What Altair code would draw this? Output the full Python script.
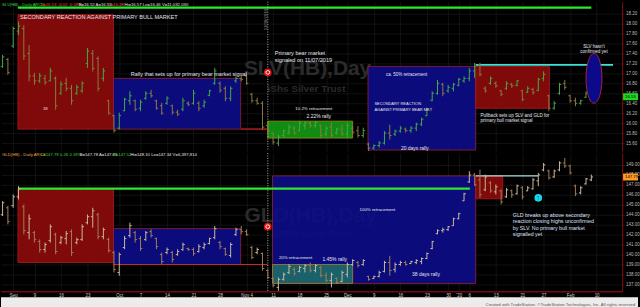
import json
import altair as alt
import pandas as pd

# ---------------- data (trading-day index: 0 = 3 Sep 2019) ----------------
days = list(range(-2, 110))

slv_high = [17.37,17.31,17.94,18.04,17.97,17.57,17.01,17.01,16.97,17.11,
            16.94,16.84,16.91,16.77,16.77,16.84,17.51,17.47,17.34,17.11,
            16.47,16.17,16.21,16.51,16.64,16.47,16.47,16.64,16.67,16.47,
            16.41,16.54,16.37,16.27,16.51,16.44,16.67,16.44,16.47,16.67,
            17.11,16.84,16.74,16.74,16.94,16.97,17.01,16.61,16.51,16.44,
            16.04,15.81,15.77,15.87,15.97,15.94,16.04,16.04,16.04,16.04,
            15.97,15.94,16.01,15.91,15.97,16.01,15.94,15.94,15.91,15.61,
            15.57,15.64,15.84,15.97,15.87,15.94,15.91,15.94,16.01,16.11,
            16.31,16.64,16.87,16.81,16.77,16.81,16.91,16.94,17.11,17.21,
            17.21,16.74,16.94,16.84,16.67,16.84,16.81,16.87,16.67,16.74,
            16.71,16.91,17.04,16.57,16.44,16.81,16.87,16.57,16.51,16.47,
            16.64,16.64]
slv_low = [17.11,16.97,17.51,17.77,17.27,16.84,16.77,16.81,16.77,16.84,
           16.27,16.57,16.64,16.37,16.57,16.61,17.11,17.04,16.64,16.84,
           16.17,15.81,15.87,16.24,16.37,16.24,16.24,16.47,16.51,16.27,
           16.17,16.37,16.17,16.14,16.24,16.34,16.37,16.24,16.31,16.54,
           16.77,16.61,16.44,16.44,16.81,16.84,16.77,16.41,16.37,15.87,
           15.77,15.57,15.54,15.71,15.77,15.77,15.84,15.87,15.91,15.91,
           15.71,15.74,15.71,15.77,15.74,15.71,15.77,15.71,15.71,15.44,
           15.47,15.51,15.57,15.67,15.74,15.81,15.81,15.81,15.84,15.94,
           16.14,16.44,16.57,16.54,16.61,16.64,16.74,16.81,16.84,16.91,
           16.94,16.61,16.77,16.71,16.54,16.67,16.71,16.74,16.44,16.61,
           16.57,16.64,16.84,16.24,16.27,16.57,16.67,16.41,16.34,16.37,
           16.51,16.44]
slv_open = [17.14,17.28,17.55,17.85,17.90,17.40,16.95,16.85,16.90,16.85,
            16.90,16.60,16.80,16.70,16.60,16.65,17.20,17.40,17.30,16.90,
            16.45,16.15,15.90,16.25,16.45,16.45,16.30,16.50,16.60,16.45,
            16.35,16.40,16.35,16.22,16.28,16.40,16.40,16.40,16.35,16.56,
            16.80,16.80,16.70,16.50,16.85,16.90,16.95,16.58,16.45,16.40,
            15.95,15.80,15.60,15.75,15.80,15.90,15.85,15.95,16.00,15.95,
            15.95,15.78,15.92,15.80,15.88,15.78,15.90,15.85,15.75,15.58,
            15.50,15.55,15.60,15.80,15.78,15.84,15.88,15.85,15.90,15.98,
            16.15,16.46,16.60,16.78,16.65,16.70,16.76,16.85,16.90,17.05,
            17.18,16.70,16.80,16.80,16.65,16.70,16.78,16.76,16.65,16.62,
            16.68,16.66,16.90,16.55,16.30,16.60,16.80,16.55,16.45,16.40,
            16.52,16.47]
slv_close = [17.33,17.02,17.90,17.95,17.35,16.95,16.85,16.95,16.82,17.05,
             16.35,16.78,16.70,16.45,16.72,16.80,17.45,17.10,16.70,17.05,
             16.20,15.85,16.15,16.48,16.55,16.28,16.42,16.60,16.55,16.30,
             16.20,16.50,16.22,16.18,16.45,16.38,16.60,16.30,16.42,16.65,
             17.05,16.66,16.50,16.70,16.90,16.88,16.80,16.45,16.40,15.92,
             15.85,15.62,15.72,15.85,15.92,15.80,16.00,16.00,15.95,16.02,
             15.75,15.90,15.75,15.88,15.78,15.95,15.82,15.75,15.85,15.50,
             15.55,15.60,15.80,15.75,15.84,15.90,15.85,15.90,15.98,16.08,
             16.28,16.60,16.80,16.60,16.72,16.78,16.88,16.90,17.05,17.15,
             16.98,16.65,16.90,16.75,16.58,16.80,16.75,16.85,16.48,16.70,
             16.62,16.88,16.98,16.30,16.40,16.78,16.72,16.45,16.40,16.45,
             16.60,16.53]

gld_high = [145.37,144.87,146.03,146.87,145.03,144.03,142.37,141.53,141.20,143.03,
            142.20,141.87,142.37,142.53,141.70,143.03,144.03,144.70,144.20,142.70,
            141.70,140.37,140.20,141.87,143.20,142.37,141.87,142.37,142.53,141.70,
            140.20,140.70,140.37,140.53,141.20,140.70,140.70,141.03,141.20,141.70,
            142.87,141.37,140.70,141.20,142.70,142.87,142.53,140.87,140.70,140.20,
            138.53,137.70,137.70,138.20,139.03,138.70,138.87,139.03,139.20,139.03,
            138.87,138.20,138.20,137.70,138.37,139.20,139.53,139.37,139.53,137.87,
            137.87,138.37,139.37,139.87,139.20,139.37,139.37,139.37,139.53,139.70,
            140.20,141.37,142.53,142.70,142.87,143.70,144.20,146.20,148.37,148.20,
            148.53,148.03,147.37,147.03,146.53,146.70,146.53,147.03,146.87,146.87,
            147.70,148.20,149.20,148.53,148.53,149.37,149.70,149.03,147.03,146.87,
            147.70,148.03]
gld_low = [143.87,143.03,144.70,145.53,142.03,141.53,141.20,140.20,140.20,141.20,
           140.03,141.03,141.03,139.87,141.03,141.37,143.03,142.70,141.53,141.53,
           140.20,138.20,137.87,140.53,141.70,141.20,140.37,141.37,141.70,140.53,
           139.03,140.03,139.20,139.87,140.37,140.37,139.87,140.20,140.53,141.03,
           141.53,140.53,139.87,139.70,141.87,142.03,141.87,139.53,140.03,138.37,
           137.53,136.70,136.37,137.37,138.03,137.87,138.20,138.20,138.20,138.20,
           137.70,137.20,136.70,137.03,137.20,137.70,138.87,138.70,138.87,137.37,
           137.53,137.70,138.20,137.87,138.20,138.87,138.87,139.03,139.03,139.03,
           139.53,140.53,142.03,142.20,142.37,142.87,143.53,145.37,147.20,146.87,
           145.70,146.37,146.20,146.03,145.03,145.70,145.70,146.03,145.53,146.37,
           146.53,146.87,148.37,147.53,147.70,148.37,148.70,148.03,145.87,146.03,
           147.03,147.37]
gld_open = [144.0,144.7,144.9,145.8,144.8,142.2,142.2,141.3,140.5,141.4,
            142.0,141.2,141.6,142.3,141.2,141.5,143.2,143.8,144.0,141.8,
            141.5,140.2,138.2,140.7,141.9,142.2,141.6,141.5,142.3,141.6,
            140.0,140.2,140.2,140.0,140.5,140.6,140.5,140.3,140.7,141.1,
            141.7,141.2,140.6,139.9,142.0,142.5,142.3,140.7,140.2,140.1,
            138.4,137.6,136.7,137.5,138.2,138.5,138.3,138.6,138.9,138.4,
            138.7,137.9,137.4,137.6,137.3,138.0,139.0,139.2,139.0,137.8,
            137.6,137.8,138.3,139.2,138.5,139.0,139.2,139.1,139.2,139.3,
            139.6,140.6,142.1,142.4,142.5,142.9,143.6,145.4,147.3,148.0,
            147.5,146.5,147.2,146.3,146.4,145.8,146.4,146.1,146.7,146.4,
            146.6,147.4,148.5,148.4,147.8,148.5,149.2,148.9,146.9,146.2,
            147.1,147.5]
gld_close = [145.2,143.3,145.8,146.6,142.4,143.6,141.5,140.5,141.0,142.8,
             140.3,141.7,142.1,140.2,141.5,142.8,143.8,144.4,141.8,142.5,
             140.4,138.5,140.0,141.6,142.9,141.5,140.6,142.2,141.9,140.8,
             139.3,140.5,139.5,140.3,141.0,140.5,140.1,140.8,141.0,141.6,
             142.6,140.8,140.0,141.0,142.5,142.3,142.0,139.7,140.5,138.6,
             137.7,136.9,137.5,138.0,138.8,138.1,138.7,138.9,138.4,138.9,
             137.9,137.4,138.0,137.2,138.2,139.0,139.4,138.9,139.4,137.5,
             137.8,138.2,139.2,138.4,139.0,139.2,139.0,139.3,139.4,139.6,
             140.1,141.3,142.4,142.5,142.8,143.6,144.1,146.1,148.0,147.0,
             146.0,147.8,146.4,146.8,145.3,146.5,146.0,146.9,145.8,146.7,
             147.5,148.0,149.0,147.7,148.4,149.2,148.9,148.2,146.1,146.7,
             147.6,147.79]

for arr in (slv_high, slv_low, slv_open, slv_close, gld_high, gld_low, gld_open, gld_close):
    assert len(arr) == len(days), len(arr)

tick_days = [0, 4, 9, 14, 20, 24, 29, 34, 39, 44, 49, 54, 59, 63, 68, 73, 78, 82, 84, 86, 91, 96, 100, 105, 110]
tick_text = ["Sep", "9", "16", "23", "Oct", "7", "14", "21", "28", "Nov 4", "11", "18", "25",
             "Dec", "9", "16", "23", "30", "'20", "6", "13", "21", "27", "Feb", "10"]
slv_ticks = [15.6, 15.8, 16.0, 16.2, 16.4, 16.6, 16.8, 17.0, 17.2, 17.4, 17.6, 17.8, 18.0, 18.2]
gld_ticks = [137, 138, 139, 140, 141, 142, 143, 144, 145, 146, 147, 148, 149]

# annotation zones (trading-day index, price)
slv_zone_from = [0.9, 18.9, 48.0, 66.9, 87.2]
slv_zone_to = [18.9, 42.9, 64.0, 87.2, 101.1]
slv_zone_top = [18.18, 16.90, 16.04, 17.14, 17.14]
slv_zone_bot = [15.88, 15.88, 15.70, 15.46, 16.30]
slv_zone_kind = ["reaction", "rally", "bounce", "rally", "reaction"]

gld_zone_from = [0.9, 18.9, 48.9, 48.9, 87.2]
gld_zone_to = [18.9, 42.9, 87.2, 64.0, 92.3]
gld_zone_top = [146.6, 142.6, 147.9, 139.0, 147.9]
gld_zone_bot = [139.2, 139.0, 137.1, 137.1, 145.6]
gld_zone_kind = ["reaction", "rally", "rally", "teal", "reaction"]

slv_level_from = [0.9, 42.9, 87.2]
slv_level_to = [109.0, 48.0, 113.1]
slv_level_at = [18.32, 15.88, 17.17]
slv_level_kind = ["bull", "support", "high"]

gld_level_from = [0.9, 18.9, 87.2]
gld_level_to = [86.1, 48.0, 99.0]
gld_level_at = [146.63, 139.0, 147.9]
gld_level_kind = ["bull", "support2", "high2"]

signal_day = 48
slv_signal_price = 17.02
gld_signal_price = 142.8
gld_break_day, gld_break_price = 99.0, 145.7
slv_oval_day, slv_oval_price = 109.5, 16.90
slv_last, gld_last = 16.53, 147.79

# texts
slv_title = "SECONDARY REACTION AGAINST PRIMARY BULL MARKET"
footer_text = "Created with TradeStation. \u00a9TradeStation Technologies, Inc. All rights reserved"

# ---------------- styles ----------------
ZK = ["reaction", "rally", "bounce", "teal"]
ZF = ["#8e0b0b", "#0c0c88", "#149a14", "#1d6a6a"]
ZE = ["#a51a1a", "#8a1f3a", "#8a8a10", "#9a7a30"]
LK = ["bull", "support", "high", "high2", "support2"]
LC = ["#2ee82e", "#8a1a1a", "#3ee0d8", "#a8e2e2", "#c42a2a"]
LW = [2.2, 1.2, 1.5, 1.2, 1.2]
FONT = "Liberation Sans"
NOTE = "#e4e4ee"
WATER = "#2b2b2b"

XS = alt.Scale(domain=[-2.3, 114.8], nice=False, zero=False)
GRID = "#1c1c1c"

label_expr = ("[" + ",".join(json.dumps(t) for t in tick_text) + "][indexof("
              + json.dumps(tick_days) + ", datum.value)]")

x_top = alt.Axis(values=tick_days, labels=False, ticks=False, domain=False, grid=True,
                 gridColor=GRID, gridWidth=0.6, title=None)
x_bot = alt.Axis(values=tick_days, labelExpr=label_expr, labelFontSize=4.5, labelColor="#cfcfcf",
                 labelFont=FONT, labelPadding=1.5, ticks=False, domainColor="#6e0d0d", domainWidth=1.5,
                 grid=True, gridColor=GRID, gridWidth=0.6, title=None, labelOverlap=False,
                 labelFlush=False, labelBound=False)


def yaxis(ticks):
    return alt.Axis(orient="right", values=ticks, format=".2f", title=None, labelFontSize=4.5,
                    labelColor="#bdbdbd", labelFont=FONT, labelPadding=1.5, tickSize=2,
                    tickColor="#6e0c0c", domainColor="#6e0c0c", domainWidth=1.2, grid=True,
                    gridColor=GRID, gridWidth=0.6, labelOverlap=False)


def build(ohlc, ydom, yticks, xax, zones, levels, up, dn, notes_fn, height):
    YS = alt.Scale(domain=ydom, nice=False, zero=False)
    yax = yaxis(yticks)

    def X(f):
        return alt.X(f, type="quantitative", scale=XS, axis=xax)

    def Y(f):
        return alt.Y(f, type="quantitative", scale=YS, axis=yax)

    df = pd.DataFrame({"k": days, "o": ohlc[0], "h": ohlc[1], "l": ohlc[2], "c": ohlc[3]})
    base = alt.Chart(df).transform_calculate(ko="datum.k - 0.34", kc="datum.k + 0.34")
    col = alt.condition("datum.c >= datum.o", alt.value(up), alt.value(dn))
    hl = base.mark_rule(strokeWidth=1).encode(x=X("k"), y=Y("l"), y2=alt.Y2("h"), color=col)
    op = base.mark_rule(strokeWidth=1).encode(x=X("ko"), x2=alt.X2("k"), y=Y("o"), color=col)
    cl = base.mark_rule(strokeWidth=1).encode(x=X("k"), x2=alt.X2("kc"), y=Y("c"), color=col)

    zdf = pd.DataFrame({"a": zones[0], "b": zones[1], "top": zones[2], "bot": zones[3], "kind": zones[4]})
    z = alt.Chart(zdf).mark_rect(fillOpacity=0.9, strokeWidth=0.9).encode(
        x=X("a"), x2=alt.X2("b"), y=Y("top"), y2=alt.Y2("bot"),
        fill=alt.Fill("kind:N", scale=alt.Scale(domain=ZK, range=ZF), legend=None),
        stroke=alt.Stroke("kind:N", scale=alt.Scale(domain=ZK, range=ZE), legend=None))

    ldf = pd.DataFrame({"a": levels[0], "b": levels[1], "at": levels[2], "kind": levels[3]})
    lv = alt.Chart(ldf).mark_rule().encode(
        x=X("a"), x2=alt.X2("b"), y=Y("at"),
        color=alt.Color("kind:N", scale=alt.Scale(domain=LK, range=LC), legend=None),
        strokeWidth=alt.StrokeWidth("kind:N", scale=alt.Scale(domain=LK, range=LW), legend=None))

    sig = alt.Chart(pd.DataFrame({"k": [signal_day]})).mark_rule(
        strokeDash=[1, 1.5], color="#d8d8d8", strokeWidth=0.8).encode(x=X("k"))

    def note(k, p, text, size, color=NOTE, align="left", bold=False, angle=0, lh=None):
        d = pd.DataFrame({"k": [k], "p": [p], "t": [text]})
        kw = dict(align=align, baseline="middle", fontSize=size, color=color, font=FONT,
                  fontWeight="bold" if bold else "normal", lineBreak="\n",
                  lineHeight=lh if lh else size * 1.25)
        if angle:
            kw["angle"] = angle
        return alt.Chart(d).mark_text(**kw).encode(x=X("k"), y=Y("p"), text="t:N")

    def point(k, p, size, fill, stroke=None, shape="circle", sw=1):
        d = pd.DataFrame({"k": [k], "p": [p]})
        kw = dict(shape=shape, size=size, filled=True, fill=fill, fillOpacity=1, opacity=1)
        if stroke:
            kw.update(stroke=stroke, strokeWidth=sw)
        return alt.Chart(d).mark_point(**kw).encode(x=X("k"), y=Y("p"))

    back, front = notes_fn(note, point)
    layers = back + [z, lv, sig, hl, op, cl] + front
    return alt.layer(*layers).properties(width=624, height=height), Y


def header(parts, y):
    out = []
    for x, txt, color in parts:
        out.append(alt.Chart(pd.DataFrame({"t": [txt]})).mark_text(
            align="left", baseline="middle", fontSize=4.3, color=color, font=FONT).encode(
            x=alt.value(x), y=alt.value(y), text="t:N"))
    return out


def price_tag(Y, value, d, color):
    df = pd.DataFrame({"c": [value], "t": [f"{value:.2f}"]})
    r = alt.Chart(df).transform_calculate(top=f"datum.c + {d}", bot=f"datum.c - {d}").mark_rect(
        color=color).encode(x=alt.value(625), x2=alt.value(640), y=Y("top"), y2=alt.Y2("bot"))
    t = alt.Chart(df).mark_text(align="left", baseline="middle", fontSize=4.3, color="#000",
                                font=FONT).encode(x=alt.value(627), y=Y("c"), text="t:N")
    return [r, t]


ELLIPSE = "M0,-1 A0.32,1 0 1,1 0,1 A0.32,1 0 1,1 0,-1 Z"


def slv_notes(note, point):
    back = [note(55.5, 17.08, "SLV(HB),Day", 21, color=WATER, align="center", bold=True),
            note(55.3, 16.68, "iShs Silver Trust", 10, color=WATER, align="center", bold=True)]
    front = [
        note(1.3, 18.14, slv_title, 5.6),
        note(5.6, 16.28, "18", 4.3),
        note(33.1, 16.98, "Rally that sets up for primary bear market signal", 5.5, align="center"),
        note(49.3, 17.40, "Primary bear market\nsignaled on 11/07/2019", 5.6, lh=6.6),
        note(47.6, 18.08, "11/08/2019", 4.3, color="#8c8c8c", align="center", angle=270),
        note(53.2, 16.28, "10.2%  retracement", 4.4),
        note(55.3, 16.14, "2.22% rally", 5.0),
        note(70.3, 16.96, "ca. 50% retracement", 4.5),
        note(68.1, 16.38, "SECONDARY REACTION\nAGAINST PRIMARY BEAR MKT", 4.0, lh=5.6),
        note(73.1, 15.50, "20 days rally", 5.0),
        note(88.1, 16.15, "Pullback sets up SLV and GLD for\nprimary bull market signal", 4.6, lh=5.6),
        note(109.5, 17.53, "SLV hasn't\nconfirmed yet", 4.6, align="center", lh=5.4),
        point(slv_oval_day, slv_oval_price, 2500, "#0a0a8a", "#b0203a", shape=ELLIPSE),
        point(signal_day, slv_signal_price, 60, "#e01010"),
        point(signal_day, slv_signal_price, 14, "#e01010", "#ffffff", sw=0.9),
    ]
    return back, front


def gld_notes(note, point):
    back = [note(56.1, 143.9, "GLD(HB),Day", 21, color=WATER, align="center", bold=True),
            note(56.3, 142.1, "SPDR Gold Trust", 10, color=WATER, align="center", bold=True)]
    front = [
        note(50.1, 139.65, "20% retracement", 4.4),
        note(58.3, 139.6, "1.45% rally", 5.0),
        note(65.3, 144.45, "100% retracement", 4.4),
        note(75.2, 138.0, "38 days rally", 5.0),
        note(94.2, 143.95, "GLD breaks up above secondary\nreaction closing  highs unconfirmed\n"
             "by SLV. No primary bull market\nsignalled yet", 5.3, color="#dfe4ff", lh=6.2),
        point(signal_day, gld_signal_price, 60, "#e01010"),
        point(signal_day, gld_signal_price, 14, "#e01010", "#ffffff", sw=0.9),
        point(gld_break_day, gld_break_price, 60, "#18d8e8"),
        note(gld_break_day, gld_break_price, "\u2191", 7, color="#003a48", align="center", bold=True),
    ]
    return back, front


top, YT = build((slv_open, slv_high, slv_low, slv_close), [15.44, 18.44], slv_ticks, x_top,
                (slv_zone_from, slv_zone_to, slv_zone_top, slv_zone_bot, slv_zone_kind),
                (slv_level_from, slv_level_to, slv_level_at, slv_level_kind),
                "#47a847", "#8c7a44", slv_notes, 150)
top = alt.layer(top, *header([
    (1, "SLV(HB) - Daily  ARCX", "#3fcf3f"),
    (40, "L=16.53  -0.02  -0.09%", "#ff4a4a"),
    (78, "B=16.52  A=16.53", "#e0e0e0"),
    (107, "O=16.48", "#ff4a4a"),
    (124, "Hi=16.57  Lo=16.46  V=11,032,030", "#e0e0e0"),
], 3), *price_tag(YT, slv_last, 0.07, "#1fd81f"))

bot, YB = build((gld_open, gld_high, gld_low, gld_close), [136.3, 150.2], gld_ticks, x_bot,
                (gld_zone_from, gld_zone_to, gld_zone_top, gld_zone_bot, gld_zone_kind),
                (gld_level_from, gld_level_to, gld_level_at, gld_level_kind),
                "#c9b79c", "#a27d55", gld_notes, 139)
bot = alt.layer(bot, *header([
    (1, "GLD(HB) - Daily  ARCX", "#f0a040"),
    (40, "L=147.79  0.26  0.18%", "#3fcf3f"),
    (79, "B=147.78  A=147.81", "#e0e0e0"),
    (112, "O=147.52", "#3fcf3f"),
    (130, "Hi=148.10  Lo=147.34  V=6,397,814", "#e0e0e0"),
], 2), *price_tag(YB, gld_last, 0.35, "#ff9a22"))

foot = alt.layer(
    alt.Chart(pd.DataFrame({"a": [0]})).mark_rect(color="#ececec").encode(
        x=alt.value(0), x2=alt.value(640), y=alt.value(0), y2=alt.value(11)),
    alt.Chart(pd.DataFrame({"t": [footer_text]})).mark_text(
        align="right", baseline="middle", fontSize=4.3, color="#555555", font=FONT).encode(
        x=alt.value(637), y=alt.value(7.5), text="t:N"),
).properties(width=640, height=11)

chart = alt.vconcat(top, bot, foot, spacing=0).resolve_scale(
    x="independent", y="independent", color="independent", fill="independent",
    stroke="independent", strokeWidth="independent"
).properties(padding=0, background="#000000").configure_view(strokeWidth=0)

chart.save("out.html", embed_options={"renderer": "svg", "actions": False})
